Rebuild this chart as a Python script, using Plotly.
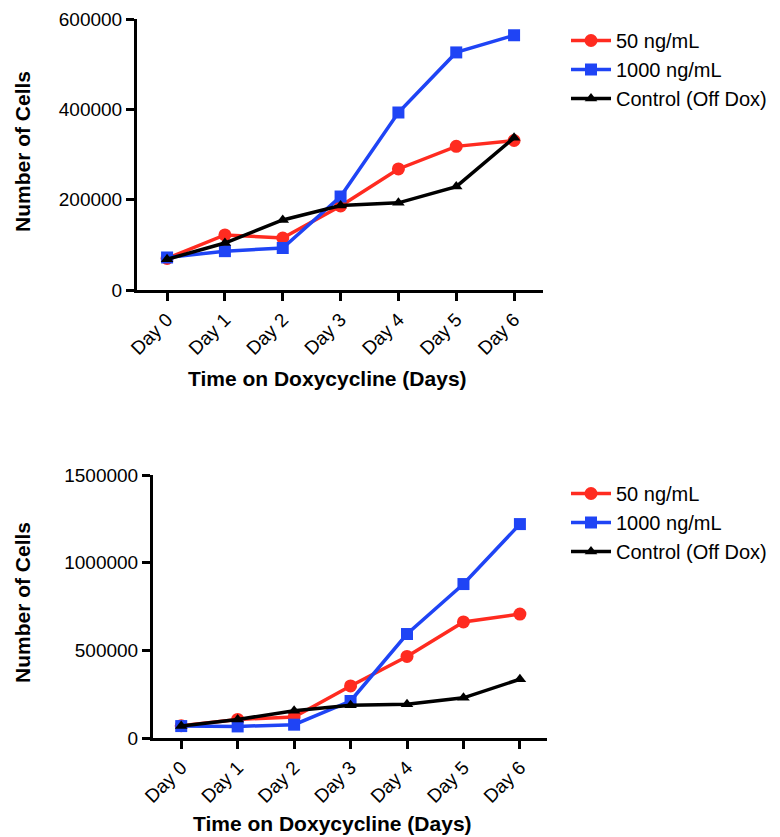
import plotly.graph_objects as go

days = ["Day 0", "Day 1", "Day 2", "Day 3", "Day 4", "Day 5", "Day 6"]

# Top panel
top_50 = [70000, 122000, 115000, 186000, 268000, 318000, 331000]
top_1000 = [72000, 86000, 93000, 207000, 393000, 526000, 564000]
top_ctrl = [68000, 104000, 155000, 187000, 193000, 229000, 337000]

# Bottom panel
bot_50 = [70000, 106000, 120000, 297000, 465000, 662000, 707000]
bot_1000 = [68000, 66000, 76000, 211000, 593000, 878000, 1220000]
bot_ctrl = [68000, 106000, 155000, 187000, 193000, 229000, 335000]

series_names = ["50 ng/mL", "1000 ng/mL", "Control (Off Dox)"]
colors = ["#ff2b20", "#1f44f5", "#000000"]
symbols = ["circle", "square", "triangle-up"]
msizes = [13, 12, 11]

W, H = 780, 837
OFF = 8  # page body margin in the browser
FONT = "Liberation Sans, Arial, sans-serif"

fig = go.Figure()

def add_panel(vals, xa, ya, legend):
    for name, v, c, s, ms in zip(series_names, vals, colors, symbols, msizes):
        fig.add_trace(go.Scatter(
            x=list(range(len(days))), y=v, name=name, mode="lines+markers",
            line=dict(color=c, width=3.5), marker=dict(symbol=s, size=ms, color=c),
            xaxis=xa, yaxis=ya, legend=legend, cliponaxis=False,
        ))

add_panel([top_50, top_1000, top_ctrl], "x", "y", "legend")
add_panel([bot_50, bot_1000, bot_ctrl], "x2", "y2", "legend2")

def px_x(p):
    return (p - OFF) / W

def px_y(p):
    return 1 - (p - OFF) / H

axis_common = dict(showline=True, linecolor="black", linewidth=3, ticks="outside",
                   ticklen=8, tickwidth=3, tickcolor="black", showgrid=False, zeroline=False,
                   automargin=False,
                   tickfont=dict(family=FONT, size=19, color="black"))

fig.update_layout(
    width=W, height=H, margin=dict(l=0, r=0, t=0, b=0, autoexpand=False),
    paper_bgcolor="white", plot_bgcolor="white",
    font=dict(family=FONT, color="black"),
    xaxis=dict(domain=[px_x(137), px_x(543)], anchor="y", range=[-0.52, 6.5],
               tickmode="array", tickvals=list(range(len(days))), ticktext=days,
               tickangle=-45, **axis_common),
    yaxis=dict(domain=[px_y(290), px_y(19)], anchor="x", range=[0, 600000],
               tickmode="linear", tick0=0, dtick=200000, tickformat="d", **axis_common),
    xaxis2=dict(domain=[px_x(153), px_x(547)], anchor="y2", range=[-0.5, 6.48],
                tickmode="array", tickvals=list(range(len(days))), ticktext=days,
                tickangle=-45, **axis_common),
    yaxis2=dict(domain=[px_y(738), px_y(475)], anchor="x2", range=[0, 1500000],
                tickmode="linear", tick0=0, dtick=500000, tickformat="d", **axis_common),
    legend=dict(x=px_x(566), y=px_y(21), xanchor="left", yanchor="top",
                font=dict(family=FONT, size=20, color="black"), itemwidth=40,
                tracegroupgap=0, bgcolor="rgba(0,0,0,0)"),
    legend2=dict(x=px_x(566), y=px_y(474), xanchor="left", yanchor="top",
                 font=dict(family=FONT, size=20, color="black"), itemwidth=40,
                 tracegroupgap=0, bgcolor="rgba(0,0,0,0)"),
    showlegend=True,
)

title_font = dict(family=FONT, size=21, color="black")
annotations = [
    dict(text="<b>Time on Doxycycline (Days)</b>", x=px_x(327), y=px_y(378),
         xref="paper", yref="paper", showarrow=False, font=title_font,
         xanchor="center", yanchor="middle"),
    dict(text="<b>Number of Cells</b>", x=px_x(22), y=px_y(152),
         xref="paper", yref="paper", showarrow=False, font=title_font, textangle=-90,
         xanchor="center", yanchor="middle"),
    dict(text="<b>Time on Doxycycline (Days)</b>", x=px_x(332), y=px_y(823),
         xref="paper", yref="paper", showarrow=False, font=title_font,
         xanchor="center", yanchor="middle"),
    dict(text="<b>Number of Cells</b>", x=px_x(22), y=px_y(603),
         xref="paper", yref="paper", showarrow=False, font=title_font, textangle=-90,
         xanchor="center", yanchor="middle"),
]
fig.update_layout(annotations=annotations)

fig.write_html("out.html")
